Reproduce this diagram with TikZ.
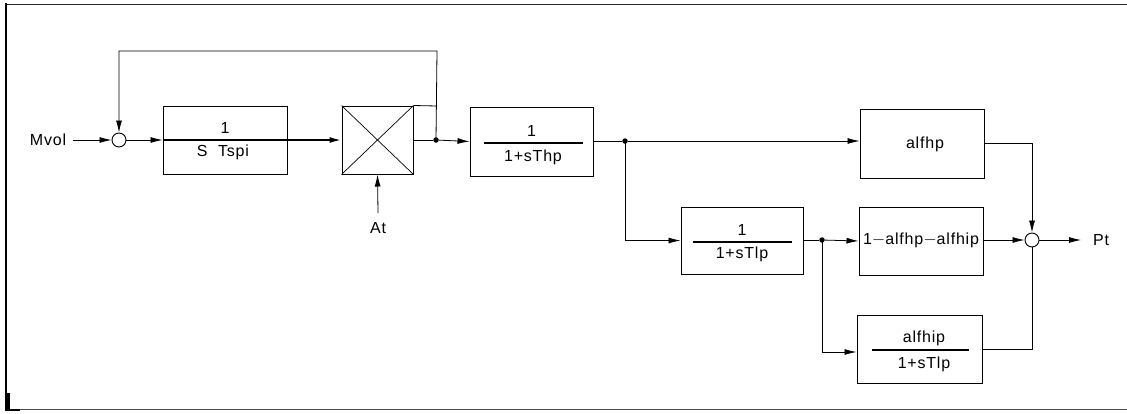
\documentclass[tikz,border=0pt]{standalone}
\usepackage{fontspec}
\setmainfont{Liberation Sans}[LetterSpace=5]
\usetikzlibrary{arrows.meta}
\begin{document}
\begin{tikzpicture}[x=1pt,y=-1pt,
  every node/.style={font=\fontsize{16}{19}\selectfont, inner sep=0pt},
  blk/.style={draw, line width=1pt, rectangle, minimum width=#1, minimum height=68pt},
  sumc/.style={draw, line width=0.9pt, circle, minimum size=14pt},
  jdot/.style={fill, circle, minimum size=5.5pt},
  sig/.style={line width=0.8pt, -{Latex[length=12pt,width=6pt]}},
  wire/.style={line width=0.8pt},
  fbar/.style={line width=2.2pt}
]
\useasboundingbox (0,0) rectangle (1127,413);
% frame
\draw[line width=1.2pt, black!85] (6,4.5) -- (1127,4.5);
\draw[line width=1pt, black!70] (6,409.5) -- (1127,409.5);
\draw[line width=2.6pt] (6,3) -- (6,411);
\draw[line width=2.2pt] (8.5,393) -- (8.5,410) -- (20,410);

% nodes
\node (mvol) at (48,140) {Mvol};
\coordinate (mvolout) at (73,140);
\node[sumc] (s1) at (119,140) {};
\node[blk=124pt] (b1) at (225,140) {};
\node (b1n) at (225,128) {1};
\node (b1d) at (223,152) {S\ \ Tspi};
\node[blk=71pt] (mx) at (377.5,140) {};
\node (at) at (378,228) {At};
\node[jdot] (d1) at (436,140) {};
\coordinate (fbr) at (437,51);
\coordinate (fbl) at (119,51);
\coordinate (mxtr) at (437,106);

\node[blk=123pt, minimum height=69pt] (b2) at (531.5,141.5) {};
\node (b2n) at (531.5,131) {1};
\node (b2d) at (533,157) {1+sThp};
\node[jdot] (d2) at (625,141) {};
\coordinate (d2down) at (623,240);

\node[blk=124pt, minimum height=69pt] (b3) at (922,143.5) {};
\node (b3t) at (925,144) {alfhp};

\node[blk=122pt, minimum height=67pt] (b4) at (742,240.5) {};
\node (b4n) at (742,230) {1};
\node (b4d) at (742,254) {1+sTlp};
\node[jdot] (d3) at (822,240) {};
\coordinate (d3down) at (822,352);

\node[blk=124pt] (b5) at (921,241) {};
\node (b5t) at (921,240) {1$-$alfhp$-$alfhip};

\node[blk=125pt] (b6) at (919.5,349) {};
\node (b6n) at (924,338) {alfhip};
\node (b6d) at (924,364) {1+sTlp};

\node[sumc] (s2) at (1032,240) {};
\coordinate (pto) at (1081,240);
\node (pt) at (1101,240) {Pt};

% cross in multiplier
\draw[line width=0.7pt] (mx.north west) -- (mx.south east) (mx.north east) -- (mx.south west);
% fraction bars
\draw[fbar] (b2.west |- 0,143) ++(14,0) -- ++(99,0);
\draw[fbar] (b4.west |- 0,242) ++(12,0) -- ++(99,0);
\draw[fbar] (b6.west |- 0,350) ++(15,0) -- ++(97,0);

% connectors
\draw[sig] (mvolout) -- (s1.west);
\draw[sig] (s1.east) -- (b1.west);
\draw[fbar] (b1.west) -- (b1.east);
\draw[line width=1.8pt, -{Latex[length=12pt,width=6pt]}] (b1.east) -- (mx.west);
\draw[sig] (378,213) coordinate (atin) -- (mx.south);
\draw[wire] (mx.east) -- (d1);
\draw[wire] (mx.north east) -- (mxtr);
\draw[sig] (d1.center) -- (fbr) -- (fbl) -- (s1.north);
\draw[sig] (d1) -- (b2.west);
\draw[wire] (b2.east |- d2) -- (d2);
\draw[sig] (d2) -- (b3.west |- d2);
\draw[sig] (d2.center) |- (b4.west);
\draw[wire] (b4.east |- d3) -- (d3);
\draw[sig] (d3) -- (b5.west);
\draw[sig] (d3.center) |- (b6.west |- d3down);
\draw[sig] (b3.east) -| (s2.north);
\draw[sig] (b5.east |- s2) -- (s2.west);
\draw[wire] (b6.east) -| (s2.south);
\draw[sig] (s2.east) -- (pto);
\end{tikzpicture}
\end{document}
